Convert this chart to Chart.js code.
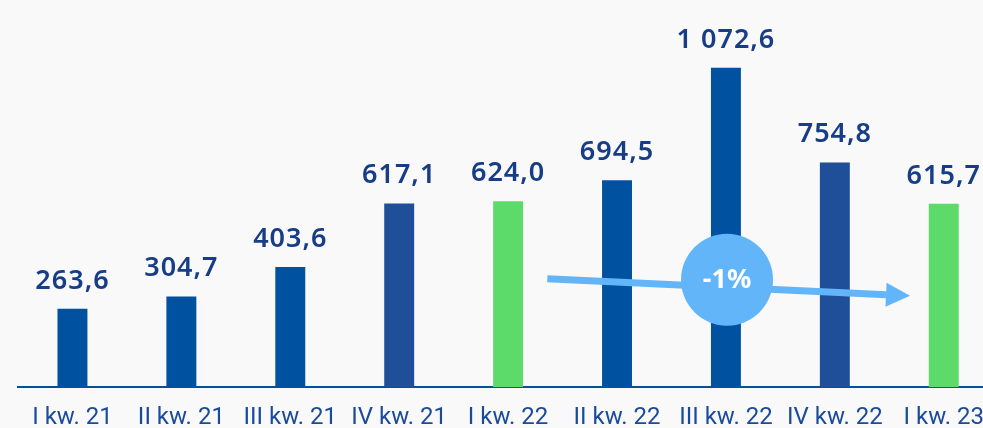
<!DOCTYPE html>
<html>
<head>
<meta charset="utf-8">
<script src="https://cdn.jsdelivr.net/npm/chart.js@4/dist/chart.umd.min.js"></script>
<style>
  html, body { margin: 0; padding: 0; background: #f9f9f9; overflow: hidden; }
  #wrap { width: 1000px; height: 448px; position: relative; }
</style>
</head>
<body>
<div id="wrap"><canvas id="chart"></canvas></div>
<script>
// quarterly values
const quarters = ['I kw. 21', 'II kw. 21', 'III kw. 21', 'IV kw. 21', 'I kw. 22', 'II kw. 22', 'III kw. 22', 'IV kw. 22', 'I kw. 23'];
const values = [263.6, 304.7, 403.6, 617.1, 624.0, 694.5, 1072.6, 754.8, 615.7];
const barColors = ['#0052a0', '#0052a0', '#0052a0', '#204f99', '#5cdb6a', '#0052a0', '#0052a0', '#204f99', '#5cdb6a'];

// trend annotation: from I kw. 22 to I kw. 23
const trendLabel = '-1%';
const trendFrom = { x: 4.36, y: 364 };
const trendTo = { x: 7.69, y: 307 };
const trendBadge = { x: 6.01, y: 361 };

const navy = '#163d86';
const lightBlue = '#63b5fa';

function fmt(v) {
  const parts = v.toFixed(1).split('.');
  const int = parts[0].replace(/\B(?=(\d{3})+(?!\d))/g, ' ');
  return int + ',' + parts[1];
}

const valueLabels = {
  id: 'valueLabels',
  afterDatasetsDraw(chart) {
    const ctx = chart.ctx;
    const meta = chart.getDatasetMeta(0);
    ctx.save();
    ctx.fillStyle = navy;
    ctx.font = '600 27px "Noto Sans"';
    ctx.letterSpacing = '1px';
    ctx.textAlign = 'center';
    ctx.textBaseline = 'alphabetic';
    meta.data.forEach((bar, i) => {
      ctx.fillText(fmt(values[i]), bar.x, bar.y - 20);
    });
    ctx.restore();
  }
};

const trendArrow = {
  id: 'trendArrow',
  afterDatasetsDraw(chart) {
    const ctx = chart.ctx;
    const xs = chart.scales.x, ys = chart.scales.y;
    const x1 = xs.getPixelForValue(trendFrom.x), y1 = ys.getPixelForValue(trendFrom.y);
    const x2 = xs.getPixelForValue(trendTo.x), y2 = ys.getPixelForValue(trendTo.y);
    const ang = Math.atan2(y2 - y1, x2 - x1);
    const head = 24;
    ctx.save();
    ctx.strokeStyle = lightBlue;
    ctx.fillStyle = lightBlue;
    ctx.lineWidth = 7;
    ctx.beginPath();
    ctx.moveTo(x1, y1);
    ctx.lineTo(x2 - head * Math.cos(ang), y2 - head * Math.sin(ang));
    ctx.stroke();
    // arrow head
    ctx.beginPath();
    ctx.moveTo(x2, y2);
    ctx.lineTo(x2 - head * Math.cos(ang) - 12 * Math.sin(ang), y2 - head * Math.sin(ang) + 12 * Math.cos(ang));
    ctx.lineTo(x2 - head * Math.cos(ang) + 12 * Math.sin(ang), y2 - head * Math.sin(ang) - 12 * Math.cos(ang));
    ctx.closePath();
    ctx.fill();
    // badge
    const cx = xs.getPixelForValue(trendBadge.x), cy = ys.getPixelForValue(trendBadge.y);
    ctx.beginPath();
    ctx.arc(cx, cy, 46, 0, Math.PI * 2);
    ctx.fill();
    ctx.fillStyle = '#ffffff';
    ctx.font = 'bold 27px "Noto Sans"';
    ctx.textAlign = 'center';
    ctx.textBaseline = 'middle';
    ctx.fillText(trendLabel, cx, cy + 1);
    ctx.restore();
  }
};

new Chart(document.getElementById('chart'), {
  type: 'bar',
  data: {
    labels: quarters,
    datasets: [{
      data: values,
      backgroundColor: barColors,
      barPercentage: 0.55,
      categoryPercentage: 0.5
    }]
  },
  options: {
    responsive: true,
    maintainAspectRatio: false,
    animation: false,
    layout: { padding: { left: 18, right: 0, top: 0, bottom: 0 } },
    plugins: {
      legend: { display: false },
      tooltip: { enabled: false }
    },
    scales: {
      x: {
        grid: { display: false, drawTicks: false },
        border: { color: '#0052a0', width: 2 },
        ticks: {
          color: '#1a4a9a',
          font: { family: '"Liberation Sans Narrow", Roboto', size: 24 },
          padding: 16,
          maxRotation: 0,
          autoSkip: false
        }
      },
      y: {
        display: false,
        min: 0,
        max: 1300
      }
    }
  },
  plugins: [valueLabels, trendArrow]
});
</script>
</body>
</html>
